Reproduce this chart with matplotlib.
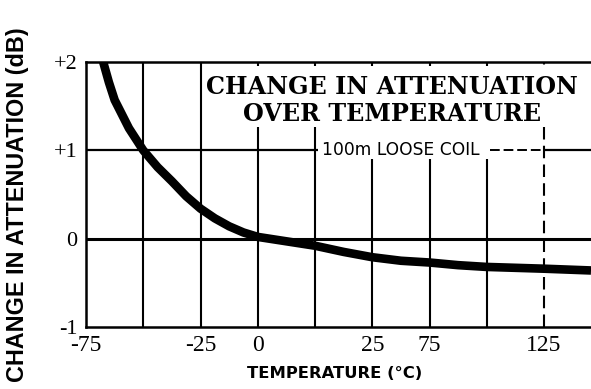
import matplotlib
matplotlib.use("Agg")
from matplotlib import pyplot as plt
from matplotlib.patches import Rectangle

# grid columns are evenly spaced, but the printed temperature labels are not
tick_pos = [0, 2, 3, 5, 6, 8]
temp_labels = ["-75", "-25", "0", "25", "75", "125"]
grid_x = [1, 2, 3, 4, 5, 6, 7, 8]

y_ticks = [2, 1, 0, -1]
y_labels = ["+2", "+1", "0", "-1"]

# attenuation change (dB), by grid column
curve_x = [0.3, 0.4, 0.5, 0.75, 1.0, 1.25, 1.5, 1.75, 2.0, 2.25, 2.5, 2.75, 3.0, 3.5, 4.0, 4.5, 5.0, 5.5, 6.0, 6.5, 7.0, 7.5, 8.0, 8.82]
curve_y = [2.0, 1.77, 1.57, 1.25, 1.0, 0.81, 0.65, 0.48, 0.34, 0.23, 0.14, 0.07, 0.02, -0.03, -0.08, -0.15, -0.21, -0.25, -0.27, -0.30, -0.32, -0.33, -0.34, -0.36]

fig = plt.figure(figsize=(5.91, 3.89), dpi=100)
ax = fig.add_axes([86 / 591, 1 - 327 / 389, 1 - 86 / 591, (327 - 62) / 389])
ax.set_xlim(0, 8.82)
ax.set_ylim(-1, 2)

for s in ["left", "bottom", "top"]:
    ax.spines[s].set_linewidth(1.8)
ax.spines["right"].set_visible(False)

# grid
for gx in grid_x:
    ls = (0, (6, 3)) if gx == 8 else "-"
    ax.axvline(gx, color="black", lw=1.5, ls=ls, zorder=1)
ax.axhline(0, color="black", lw=2.2, zorder=1)
ax.hlines(1, 0, 4.05, color="black", lw=1.6, zorder=1)
ax.hlines(1, 7.05, 8, color="black", lw=1.4, ls=(0, (5, 2)), zorder=1)
ax.hlines(1, 8, 8.82, color="black", lw=1.6, zorder=1)

# white areas behind the title text
ax.add_patch(Rectangle((2.05, 1.26), 6.8, 0.69, facecolor="white", edgecolor="none", zorder=2))
ax.add_patch(Rectangle((4.07, 0.9), 2.97, 0.36, facecolor="white", edgecolor="none", zorder=2))

ax.plot(curve_x, curve_y, color="black", lw=6.2, solid_capstyle="butt", zorder=3)

ax.text(5.35, 1.72, "CHANGE IN ATTENUATION", ha="center", va="center", fontsize=17.2,
        family="DejaVu Serif", weight="bold", zorder=4)
ax.text(5.35, 1.41, "OVER TEMPERATURE", ha="center", va="center", fontsize=17.2,
        family="DejaVu Serif", weight="bold", zorder=4)
ax.text(4.12, 1.0, "100m LOOSE COIL", ha="left", va="center", fontsize=12.3,
        family="DejaVu Sans", zorder=4)

ax.set_xticks(tick_pos)
ax.set_xticklabels(temp_labels, family="Liberation Serif", fontsize=17)
ax.set_yticks(y_ticks)
ax.set_yticklabels(y_labels, family="Liberation Serif", fontsize=16)
ax.tick_params(length=0, pad=6)

fig.text(247 / 591, 1 - 373 / 389, "TEMPERATURE (°C)", ha="left", va="center",
         fontsize=11.8, family="DejaVu Sans", weight="bold")
fig.text(18 / 591, 1 - 205 / 389, "CHANGE IN ATTENUATION (dB)", rotation=90,
         ha="center", va="center", fontsize=16.8, family="Liberation Sans", weight="bold")

fig.savefig("out.png", dpi=100)
